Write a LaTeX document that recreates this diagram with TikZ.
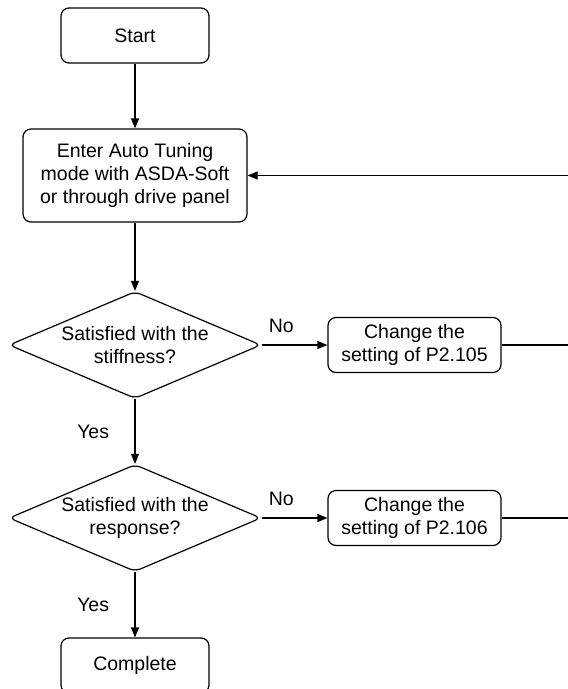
\documentclass[tikz,border=0pt]{standalone}
\usepackage{fontspec}
\setmainfont{Liberation Sans}
\usetikzlibrary{shapes.geometric,arrows.meta}

\tikzset{
    box/.style={draw, rounded corners=8pt, align=center, inner sep=0pt},
    query/.style={draw, diamond, aspect=2.32, rounded corners=6pt, inner sep=0pt,
        minimum width=252pt, minimum height=107pt, align=center},
    flow/.style={-{Triangle[length=10pt,width=8pt]}},
}

\begin{document}
\begin{tikzpicture}[x=1pt, y=-1pt, line width=1.2pt, font=\fontsize{19.5}{23}\selectfont]
    \useasboundingbox (0,0) rectangle (568,689);
    \clip (0,0) rectangle (568,689);

    \node[box, minimum width=148pt, minimum height=55pt] (start) at (135,35.5) {Start};
    \node[box, minimum width=224pt, minimum height=93pt] (enter) at (135,175.5)
        {Enter Auto Tuning\\mode with ASDA-Soft\\or through drive panel};
    \node[query] (stiff) at (135,345) {Satisfied with the\\stiffness?};
    \node[box, minimum width=173pt, minimum height=55pt] (p105) at (414.5,345)
        {Change the\\setting of P2.105};
    \node[query] (resp) at (135,518) {Satisfied with the\\response?};
    \node[box, minimum width=173pt, minimum height=55pt] (p106) at (414.5,518)
        {Change the\\setting of P2.106};
    \node[box, minimum width=148pt, minimum height=55pt] (done) at (135,665.5) {Complete};
    \coordinate (back) at (590,175.5);

    \draw[flow] (start) -- (enter);
    \draw[flow] (enter) -- (stiff);
    \draw[flow] (stiff) -- node[left=22pt] {Yes} (resp);
    \draw[flow] (resp) -- node[left=22pt] {Yes} (done);
    \draw[flow] (stiff.east) -- node[pos=0.3, above=8pt] {No} (p105.west);
    \draw[flow] (resp.east) -- node[pos=0.3, above=8pt] {No} (p106.west);

    % both changes go back to auto tuning
    \draw (p105.east) -- (p105.east -| back);
    \draw (p106.east) -- (p106.east -| back) -- (back);
    \draw[flow] (back) -- (enter.east);
\end{tikzpicture}
\end{document}
